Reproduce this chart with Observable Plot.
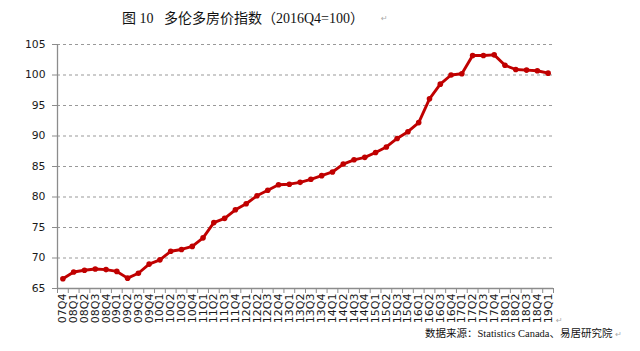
<!DOCTYPE html>
<html>
<head>
<meta charset="utf-8">
<script src="https://cdn.jsdelivr.net/npm/d3@7"></script>
<script src="https://cdn.jsdelivr.net/npm/@observablehq/plot@0.6"></script>
<style>
  html, body { margin: 0; padding: 0; background: #fff; }
  #wrap { position: relative; width: 640px; height: 351px; overflow: hidden; }
  #title { position: absolute; left: 122px; top: 7px; font-family: "Liberation Serif", "Noto Sans CJK SC", serif;
    font-size: 14px; color: #111; white-space: pre; }
  #caption { position: absolute; left: 425px; top: 325px; font-family: "Liberation Serif", "Noto Sans CJK SC", serif;
    font-size: 10.5px; color: #111; white-space: pre; }
  .pm { color: #aaa; font-family: "DejaVu Sans", sans-serif; font-size: 8px; }
  #pm1 { position: absolute; left: 381px; top: 14px; }
  #pm2 { position: absolute; left: 556px; top: 316px; }
  #chart { position: absolute; left: 0; top: 0; }
</style>
</head>
<body>
<div id="wrap">
  <div id="chart"></div>
  <div id="title">图 10   多伦多房价指数（2016Q4=100）</div>
  <div id="pm1" class="pm">↵</div>
  <div id="caption">数据来源：Statistics Canada、易居研究院 <span class="pm">↵</span></div>
  <div id="pm2" class="pm">↵</div>
</div>
<script>
const quarters = ["07Q4","08Q1","08Q2","08Q3","08Q4","09Q1","09Q2","09Q3","09Q4","10Q1","10Q2","10Q3","10Q4",
  "11Q1","11Q2","11Q3","11Q4","12Q1","12Q2","12Q3","12Q4","13Q1","13Q2","13Q3","13Q4","14Q1","14Q2","14Q3","14Q4",
  "15Q1","15Q2","15Q3","15Q4","16Q1","16Q2","16Q3","16Q4","17Q1","17Q2","17Q3","17Q4","18Q1","18Q2","18Q3","18Q4","19Q1"];
const priceIndex = [66.6,67.7,68.0,68.2,68.1,67.8,66.7,67.5,69.0,69.7,71.1,71.4,71.9,
  73.3,75.8,76.5,77.9,78.9,80.2,81.1,82.0,82.1,82.4,82.9,83.5,84.1,85.4,86.1,86.5,
  87.3,88.2,89.6,90.7,92.2,96.1,98.5,100.0,100.2,103.2,103.2,103.3,101.6,100.9,100.8,100.7,100.3];
const yTicks = [65,70,75,80,85,90,95,100,105];

const data = quarters.map((q, i) => ({i, q, v: priceIndex[i]}));
const n = quarters.length;
const xMin = -0.5, xMax = n - 0.5;
const boundaries = d3.range(n + 1).map(i => i - 0.5);
const centers = d3.range(n);
const axisColor = "#8c8c8c";

const chart = Plot.plot({
  width: 640,
  height: 351,
  marginLeft: 57,
  marginRight: 87,
  marginTop: 44,
  marginBottom: 63,
  style: { fontFamily: "'DejaVu Sans', Verdana, sans-serif", color: "#1a1a1a", background: "transparent" },
  x: { type: "linear", domain: [xMin, xMax] },
  y: { domain: [65, 105] },
  marks: [
    Plot.gridY(yTicks, { stroke: "#999", strokeOpacity: 1, strokeDasharray: "3,3" }),
    Plot.ruleX([xMin], { stroke: axisColor, strokeWidth: 1.3 }),
    Plot.ruleY([65], { stroke: axisColor, strokeWidth: 1.3 }),
    Plot.axisY({ ticks: yTicks, tickSize: 5, tickPadding: 7, fontSize: 10.8, stroke: axisColor, label: null }),
    Plot.axisX({ ticks: boundaries, tickSize: 5, tickFormat: () => "", stroke: axisColor, label: null }),
    Plot.axisX({ ticks: centers, tickSize: 0, tickPadding: 5, tickRotate: -90, fontSize: 11,
      tickFormat: i => quarters[i], label: null }),
    Plot.line(data, { x: "i", y: "v", stroke: "#c00000", strokeWidth: 2.9 }),
    Plot.dot(data, { x: "i", y: "v", r: 2.8, fill: "#c00000", stroke: "none" })
  ]
});
document.getElementById("chart").appendChild(chart);
</script>
</body>
</html>
